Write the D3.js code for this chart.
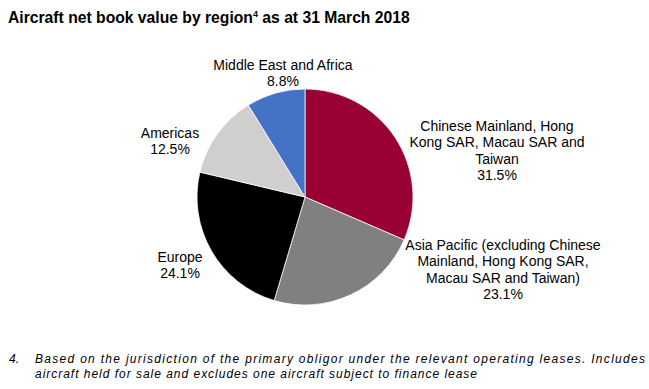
<!DOCTYPE html>
<html>
<head>
<meta charset="utf-8">
<script src="https://cdn.jsdelivr.net/npm/d3@7"></script>
<style>
  body { margin: 0; background: #fff; }
  text { font-family: "Liberation Sans", Arial, sans-serif; fill: #000; }
</style>
</head>
<body>
<div id="chart"></div>
<script>
// data
var regions = ["Chinese Mainland, Hong Kong SAR, Macau SAR and Taiwan",
               "Asia Pacific (excluding Chinese Mainland, Hong Kong SAR, Macau SAR and Taiwan)",
               "Europe", "Americas", "Middle East and Africa"];
var shares = [31.5, 23.1, 24.1, 12.5, 8.8];
var labelLines = [
  ["Chinese Mainland, Hong", "Kong SAR, Macau SAR and", "Taiwan"],
  ["Asia Pacific (excluding Chinese", "Mainland, Hong Kong SAR,", "Macau SAR and Taiwan)"],
  ["Europe"],
  ["Americas"],
  ["Middle East and Africa"]
];
var colors = ["#990033", "#808080", "#000000", "#d0cece", "#4472c4"];

var width = 649, height = 389;
var cx = 305, cy = 197, radius = 108;

var svg = d3.select("#chart").append("svg")
    .attr("width", width)
    .attr("height", height);

// title
var title = svg.append("text")
    .attr("x", 8)
    .attr("y", 23)
    .style("font-size", "15.7px")
    .style("font-weight", "bold");
title.append("tspan").text("Aircraft net book value by region");
title.append("tspan").attr("dy", -6).style("font-size", "9px").text("4");
title.append("tspan").attr("dy", 6).text(" as at 31 March 2018");

// pie
var pie = d3.pie().sort(null).value(function(d) { return d; });
var arc = d3.arc().innerRadius(0).outerRadius(radius);
var arcs = pie(shares);

var g = svg.append("g")
    .attr("transform", "translate(" + cx + "," + cy + ")");

g.selectAll("path")
    .data(arcs)
  .enter().append("path")
    .attr("d", arc)
    .attr("fill", function(d, i) { return colors[i]; })
    .attr("stroke", "#ffffff")
    .attr("stroke-width", 0.75);

// label placement (centre of first line, relative to page)
var labelAt = [[497, 131], [503, 250], [180, 262], [170, 138], [283, 70]];
var lineH = 16.4;

svg.selectAll(".lbl")
    .data(arcs)
  .enter().append("text")
    .attr("class", "lbl")
    .attr("text-anchor", "middle")
    .style("font-size", "14px")
    .each(function(d, i) {
      var t = d3.select(this);
      var lines = labelLines[i].concat([d3.format(".1f")(d.data) + "%"]);
      lines.forEach(function(s, k) {
        t.append("tspan")
          .attr("x", labelAt[i][0])
          .attr("y", labelAt[i][1] + k * lineH)
          .text(s);
      });
    });

// footnote (spaced italic)
var foot = svg.append("g")
    .style("font-style", "italic")
    .style("font-size", "12px");
foot.append("text").attr("x", 9).attr("y", 363).text("4.");
foot.append("text").attr("x", 35).attr("y", 363)
    .attr("textLength", 610).attr("lengthAdjust", "spacing")
    .text("Based on the jurisdiction of the primary obligor under the relevant operating leases. Includes");
foot.append("text").attr("x", 35).attr("y", 378)
    .attr("textLength", 442).attr("lengthAdjust", "spacing")
    .text("aircraft held for sale and excludes one aircraft subject to finance lease");
</script>
</body>
</html>
